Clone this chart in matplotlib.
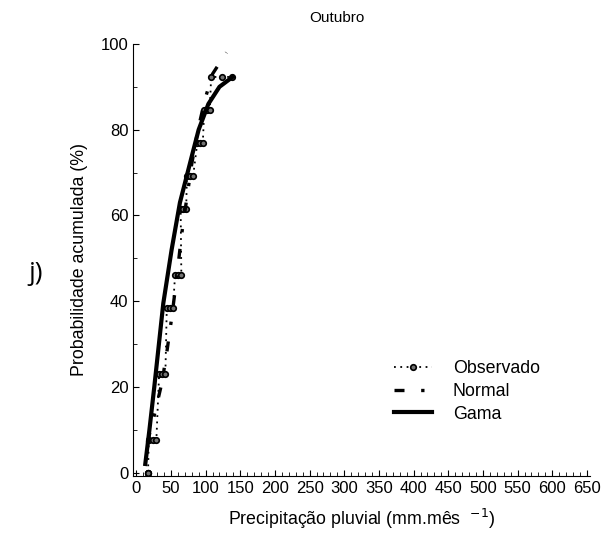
import numpy as np
import matplotlib
matplotlib.use("Agg")
import matplotlib.pyplot as plt
from matplotlib.ticker import MultipleLocator

plt.rcParams['font.family'] = ['Liberation Sans', 'DejaVu Sans']

# observado: probabilidade de cada nivel e inicio/fim do patamar (mm)
obs_prob = [0, 7.7, 23.1, 38.5, 46.2, 61.5, 69.2, 76.9, 84.6, 92.3]
obs_x_ini = [17, 18, 33, 44, 56, 64, 73, 88, 98, 108]
obs_x_fim = [17, 29, 42, 53, 65, 72, 82, 96, 106, 138]

# normal ajustada
normal_x = [16, 27, 37, 44, 51, 58, 65, 72, 80, 89, 99, 110, 130]
normal_p = [7, 14, 21, 28, 36, 45, 55, 63, 72, 80, 87, 93, 98]

# gama ajustada
gama_x = [13, 19, 26, 32, 39, 51, 63, 82, 90, 104, 120, 139]
gama_p = [2, 10, 20, 29, 39.5, 52, 63, 75, 80, 86, 90, 92.3]

x_ticks = list(range(0, 651, 50))
y_ticks = [0, 20, 40, 60, 80, 100]

fig = plt.figure(figsize=(6.08, 5.36), dpi=100)
ax = fig.add_axes([0.219, 0.112, 0.752, 0.806])

# caminho do observado
ox, oy = [], []
for p, a, b in zip(obs_prob, obs_x_ini, obs_x_fim):
    ox += [a, (a + b) / 2, b]
    oy += [p, p, p]
ax.plot(ox, oy, color='black', linestyle=(0, (1, 2.5)), linewidth=1.3,
        marker='o', markersize=4, markerfacecolor='0.45', markeredgecolor='black',
        markeredgewidth=1.2, label='Observado')
ax.plot(normal_x, normal_p, color='black', linestyle=(0, (3, 5, 1, 5)),
        linewidth=2.4, label='Normal')
ax.plot(gama_x, gama_p, color='black', linewidth=3.0, label='Gama')

ax.set_xlim(-4.5, 655)
ax.set_ylim(-0.8, 100)
ax.set_xticks(x_ticks)
ax.set_yticks(y_ticks)
ax.xaxis.set_minor_locator(MultipleLocator(10))
ax.yaxis.set_minor_locator(MultipleLocator(10))
ax.tick_params(which='both', direction='in', labelsize=12, colors='black')
ax.tick_params(which='major', length=4)
ax.tick_params(which='minor', length=3)
for s in ['top', 'right']:
    ax.spines[s].set_visible(False)

ax.set_xlabel('Precipitação pluvial (mm.mês  $^{-1}$)', fontsize=12.8, labelpad=8)
ax.set_ylabel('Probabilidade acumulada (%)', fontsize=12.8, labelpad=9)
fig.text(337 / 608, 1 - 18 / 536, 'Outubro', fontsize=11, ha='center', va='center')

leg = ax.legend(loc='upper left', bbox_to_anchor=(0.571, 0.268), frameon=False,
                fontsize=12.8, handlelength=2.1, handletextpad=1.2, labelspacing=0.32,
                borderaxespad=0, borderpad=0)
for h in leg.legend_handles:
    h.set_color('black')

fig.text(0.046, 0.489, 'j)', fontsize=19, va='center', family=['Open Sans', 'DejaVu Sans'])

fig.savefig('out.png', dpi=100)
